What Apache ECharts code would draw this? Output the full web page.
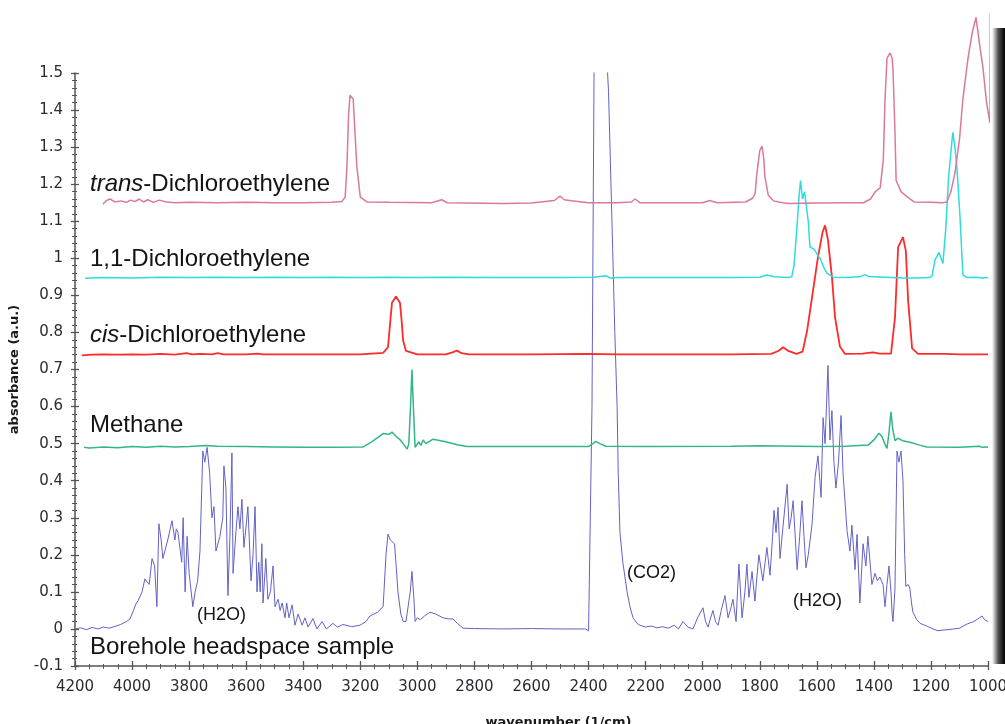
<!DOCTYPE html>
<html>
<head>
<meta charset="utf-8">
<script src="https://cdn.jsdelivr.net/npm/echarts@6/dist/echarts.min.js"></script>
<style>
  html, body { margin: 0; padding: 0; background: #fff; }
  #chart { width: 1005px; height: 724px; }
</style>
</head>
<body>
<div id="chart"></div>
<script>
// spectra: [wavenumber (1/cm), absorbance]
const transDCE = [
  [4102, 1.146], [4090, 1.156], [4077, 1.16], [4060, 1.152], [4040, 1.155], [4020, 1.151], [4005, 1.157],
  [3990, 1.153], [3975, 1.16], [3960, 1.152], [3945, 1.158], [3925, 1.151], [3905, 1.157], [3880, 1.152],
  [3850, 1.15], [3800, 1.151], [3700, 1.15], [3600, 1.151], [3500, 1.15], [3400, 1.15], [3300, 1.151],
  [3265, 1.153], [3253, 1.165], [3247, 1.246], [3241, 1.39], [3236, 1.44], [3230, 1.435], [3225, 1.43],
  [3218, 1.33], [3212, 1.246], [3200, 1.165], [3177, 1.152], [3100, 1.151], [2950, 1.15], [2915, 1.158],
  [2895, 1.15], [2700, 1.148], [2600, 1.149], [2520, 1.156], [2500, 1.168], [2485, 1.158], [2460, 1.155],
  [2400, 1.15], [2300, 1.15], [2250, 1.152], [2237, 1.16], [2220, 1.15], [2100, 1.15], [2000, 1.15],
  [1975, 1.156], [1950, 1.15], [1850, 1.152], [1825, 1.162], [1816, 1.175], [1810, 1.23], [1800, 1.29],
  [1792, 1.303], [1786, 1.27], [1782, 1.22], [1770, 1.17], [1752, 1.155], [1720, 1.15], [1700, 1.148],
  [1600, 1.149], [1500, 1.15], [1436, 1.15], [1412, 1.16], [1395, 1.18], [1378, 1.19], [1367, 1.265],
  [1361, 1.427], [1354, 1.54], [1343, 1.554], [1336, 1.54], [1333, 1.51], [1326, 1.34], [1322, 1.21],
  [1305, 1.18], [1282, 1.165], [1259, 1.152], [1200, 1.151], [1160, 1.15], [1144, 1.152], [1130, 1.18],
  [1116, 1.23], [1100, 1.32], [1088, 1.43], [1070, 1.54], [1055, 1.61], [1042, 1.65], [1030, 1.58],
  [1018, 1.516], [1005, 1.42], [993, 1.365], [992, 1.66]
];

const dce11 = [
  [4165, 0.946], [4100, 0.948], [4000, 0.947], [3900, 0.949], [3800, 0.948], [3700, 0.949], [3600, 0.948],
  [3500, 0.949], [3400, 0.948], [3300, 0.949], [3200, 0.948], [3100, 0.949], [3000, 0.948], [2900, 0.949],
  [2700, 0.948], [2500, 0.948], [2380, 0.949], [2340, 0.953], [2320, 0.946], [2300, 0.948], [2100, 0.948],
  [1900, 0.948], [1800, 0.949], [1775, 0.955], [1750, 0.95], [1700, 0.948], [1688, 0.95], [1680, 0.98],
  [1670, 1.08], [1662, 1.17], [1657, 1.21], [1650, 1.16], [1643, 1.18], [1638, 1.184], [1630, 1.1],
  [1624, 1.03], [1610, 1.025], [1603, 1.02], [1589, 1.0], [1575, 0.975], [1565, 0.96], [1543, 0.949],
  [1500, 0.948], [1450, 0.95], [1431, 0.956], [1420, 0.951], [1300, 0.947], [1250, 0.947], [1205, 0.948],
  [1196, 0.952], [1186, 0.995], [1172, 1.016], [1158, 0.986], [1148, 1.08], [1138, 1.22], [1126, 1.32],
  [1123, 1.34], [1116, 1.3], [1109, 1.246], [1098, 1.11], [1088, 0.955], [1074, 0.948], [1040, 0.949],
  [1020, 0.947], [1000, 0.948]
];

const cisDCE = [
  [4176, 0.738], [4140, 0.74], [4100, 0.741], [4050, 0.74], [4000, 0.741], [3950, 0.74], [3900, 0.742],
  [3850, 0.74], [3809, 0.744], [3790, 0.741], [3760, 0.742], [3720, 0.741], [3700, 0.744], [3680, 0.741],
  [3600, 0.741], [3560, 0.743], [3540, 0.741], [3400, 0.741], [3300, 0.741], [3200, 0.741], [3120, 0.745],
  [3103, 0.76], [3095, 0.83], [3089, 0.88], [3075, 0.897], [3061, 0.88], [3055, 0.83], [3050, 0.778],
  [3040, 0.75], [3033, 0.745], [3000, 0.741], [2900, 0.741], [2875, 0.747], [2861, 0.751], [2845, 0.744],
  [2820, 0.741], [2600, 0.741], [2400, 0.742], [2300, 0.741], [2100, 0.741], [1900, 0.741], [1760, 0.742],
  [1735, 0.75], [1718, 0.76], [1700, 0.75], [1671, 0.742], [1650, 0.748], [1634, 0.805], [1613, 0.914],
  [1596, 1.003], [1580, 1.07], [1571, 1.089], [1561, 1.05], [1547, 0.95], [1536, 0.84], [1519, 0.762],
  [1501, 0.742], [1440, 0.743], [1403, 0.746], [1380, 0.743], [1340, 0.743], [1326, 0.84], [1315, 1.03],
  [1308, 1.035], [1298, 1.057], [1288, 1.02], [1280, 0.886], [1266, 0.757], [1245, 0.742], [1150, 0.742],
  [1100, 0.741], [1000, 0.741]
];

const methane = [
  [4168, 0.49], [4150, 0.488], [4100, 0.491], [4050, 0.489], [4000, 0.492], [3950, 0.49], [3900, 0.493],
  [3850, 0.491], [3800, 0.492], [3740, 0.495], [3700, 0.493], [3600, 0.492], [3500, 0.491], [3400, 0.49],
  [3300, 0.49], [3190, 0.491], [3160, 0.505], [3120, 0.527], [3100, 0.525], [3089, 0.531], [3075, 0.52],
  [3060, 0.51], [3050, 0.5], [3036, 0.485], [3030, 0.5], [3024, 0.6], [3019, 0.7], [3014, 0.6],
  [3008, 0.49], [3001, 0.486], [2995, 0.505], [2988, 0.495], [2980, 0.51], [2970, 0.5], [2945, 0.512],
  [2900, 0.505], [2860, 0.497], [2826, 0.492], [2600, 0.492], [2400, 0.492], [2385, 0.5], [2375, 0.506],
  [2360, 0.5], [2340, 0.493], [2200, 0.492], [1900, 0.493], [1800, 0.494], [1600, 0.492], [1500, 0.493],
  [1420, 0.496], [1400, 0.51], [1382, 0.528], [1372, 0.52], [1362, 0.5], [1354, 0.487], [1347, 0.53],
  [1340, 0.586], [1334, 0.54], [1326, 0.508], [1315, 0.515], [1300, 0.508], [1270, 0.503], [1240, 0.496],
  [1214, 0.491], [1100, 0.49], [1030, 0.493], [1020, 0.49], [1000, 0.491]
];

const borehole = [
  [4200, 0.0], [4180, 0.003], [4160, -0.002], [4140, 0.004], [4120, 0.0], [4100, 0.005], [4080, 0.002],
  [4067, 0.005], [4040, 0.012], [4020, 0.02], [4007, 0.027], [3995, 0.05], [3985, 0.07], [3979, 0.076],
  [3965, 0.1], [3955, 0.135], [3948, 0.14], [3940, 0.12], [3930, 0.19], [3921, 0.17], [3913, 0.06],
  [3906, 0.284], [3898, 0.24], [3892, 0.19], [3875, 0.24], [3860, 0.292], [3850, 0.24], [3845, 0.27],
  [3839, 0.26], [3826, 0.18], [3821, 0.3], [3814, 0.1], [3807, 0.25], [3800, 0.15], [3787, 0.06],
  [3779, 0.1], [3770, 0.13], [3762, 0.21], [3752, 0.48], [3745, 0.45], [3737, 0.49], [3728, 0.42],
  [3720, 0.3], [3713, 0.33], [3706, 0.21], [3692, 0.25], [3682, 0.3], [3678, 0.44], [3671, 0.38],
  [3664, 0.09], [3657, 0.25], [3650, 0.475], [3646, 0.15], [3638, 0.24], [3629, 0.33], [3622, 0.27],
  [3615, 0.35], [3608, 0.22], [3600, 0.28], [3594, 0.33], [3583, 0.13], [3576, 0.2], [3569, 0.33],
  [3562, 0.1], [3556, 0.18], [3551, 0.1], [3545, 0.23], [3541, 0.07], [3531, 0.19], [3524, 0.08],
  [3515, 0.1], [3506, 0.17], [3499, 0.06], [3488, 0.08], [3481, 0.05], [3474, 0.07], [3464, 0.03],
  [3458, 0.07], [3450, 0.03], [3439, 0.065], [3429, 0.01], [3418, 0.04], [3404, 0.01], [3394, 0.03],
  [3383, 0.005], [3366, 0.028], [3352, 0.0], [3334, 0.02], [3319, 0.0], [3296, 0.015], [3280, 0.005],
  [3261, 0.012], [3230, 0.006], [3201, 0.01], [3180, 0.02], [3166, 0.035], [3140, 0.045], [3120, 0.06],
  [3110, 0.2], [3103, 0.256], [3095, 0.24], [3089, 0.245], [3080, 0.23], [3068, 0.1], [3058, 0.04],
  [3050, 0.02], [3040, 0.02], [3033, 0.025], [3025, 0.1], [3019, 0.155], [3012, 0.08], [3008, 0.02],
  [3000, 0.03], [2990, 0.025], [2975, 0.035], [2956, 0.045], [2935, 0.04], [2910, 0.03], [2890, 0.027],
  [2875, 0.027], [2860, 0.015], [2840, 0.002], [2800, 0.001], [2700, 0.0], [2600, 0.001], [2500, 0.0],
  [2410, 0.0], [2400, -0.005], [2394, 0.0], [2388, 0.6], [2380, 1.6], [2340, 1.6], [2330, 1.45],
  [2318, 1.1], [2308, 0.8], [2300, 0.6], [2296, 0.42], [2290, 0.26], [2280, 0.18], [2265, 0.1],
  [2255, 0.06], [2244, 0.03], [2230, 0.015], [2220, 0.01], [2200, 0.005], [2180, 0.008], [2160, 0.003],
  [2140, 0.006], [2120, 0.002], [2100, 0.01], [2085, 0.0], [2069, 0.02], [2052, 0.005], [2034, 0.0],
  [2018, 0.03], [1999, 0.057], [1990, 0.02], [1981, 0.005], [1972, 0.03], [1964, 0.05], [1955, 0.02],
  [1946, 0.01], [1935, 0.05], [1922, 0.09], [1911, 0.03], [1900, 0.06], [1894, 0.08], [1883, 0.02],
  [1878, 0.1], [1873, 0.175], [1862, 0.03], [1852, 0.1], [1845, 0.175], [1838, 0.085], [1827, 0.155],
  [1817, 0.075], [1810, 0.14], [1803, 0.2], [1789, 0.13], [1775, 0.22], [1764, 0.145], [1755, 0.25],
  [1750, 0.32], [1743, 0.26], [1736, 0.328], [1729, 0.19], [1718, 0.28], [1704, 0.39], [1697, 0.27],
  [1690, 0.3], [1683, 0.346], [1669, 0.16], [1660, 0.25], [1652, 0.346], [1645, 0.25], [1638, 0.165],
  [1630, 0.2], [1617, 0.28], [1606, 0.41], [1596, 0.467], [1585, 0.355], [1578, 0.57], [1571, 0.5],
  [1561, 0.711], [1554, 0.51], [1547, 0.589], [1540, 0.45], [1533, 0.38], [1524, 0.45], [1515, 0.576],
  [1508, 0.42], [1494, 0.265], [1484, 0.21], [1477, 0.28], [1466, 0.16], [1459, 0.255], [1449, 0.07],
  [1438, 0.23], [1428, 0.17], [1421, 0.25], [1407, 0.12], [1396, 0.15], [1388, 0.13], [1379, 0.14],
  [1368, 0.12], [1361, 0.06], [1354, 0.12], [1347, 0.17], [1340, 0.1], [1336, 0.04], [1333, 0.02],
  [1326, 0.11], [1319, 0.48], [1312, 0.45], [1305, 0.48], [1298, 0.4], [1292, 0.2], [1288, 0.115],
  [1280, 0.12], [1274, 0.11], [1268, 0.07], [1263, 0.045], [1250, 0.025], [1238, 0.015], [1215, 0.008],
  [1193, 0.0], [1175, -0.005], [1158, -0.003], [1140, -0.002], [1120, 0.0], [1100, 0.002], [1074, 0.013],
  [1050, 0.02], [1030, 0.03], [1021, 0.035], [1012, 0.025], [1000, 0.02]
];

const seriesNames = ['trans-Dichloroethylene', '1,1-Dichloroethylene', 'cis-Dichloroethylene', 'Methane', 'Borehole headspace sample'];
const seriesColors = ['#dc78a0', '#2edcdc', '#ff2a2a', '#33b585', '#6262c6'];

const labelFont = 'Liberation Sans, Arial, sans-serif';
const tickFont = 'DejaVu Sans, sans-serif';

function note (text, x, y, size) {
  return {
    type: 'text',
    x: x,
    y: y,
    silent: true,
    style: {
      text: text,
      fill: '#141414',
      fontFamily: labelFont,
      fontSize: size,
      verticalAlign: 'middle',
      rich: {
        i: { fontStyle: 'italic', fontFamily: labelFont, fontSize: size, fill: '#141414' }
      }
    }
  }
}

function lineSeries (i, data, width, clip) {
  return {
    name: seriesNames[i],
    type: 'line',
    data: data,
    showSymbol: false,
    symbol: 'none',
    clip: clip,
    lineStyle: { color: seriesColors[i], width: width },
    itemStyle: { color: seriesColors[i] }
  }
}

const xBase = {
  type: 'value',
  inverse: true,
  min: 1000,
  max: 4200,
  interval: 200,
  position: 'bottom',
  splitLine: { show: false }
}

const yBase = {
  type: 'value',
  min: -0.1,
  max: 1.5,
  interval: 0.1,
  position: 'left',
  splitLine: { show: false }
}

const chart = echarts.init(document.getElementById('chart'))
chart.setOption({
  animation: false,
  backgroundColor: '#fff',
  grid: { left: 75, right: 17, top: 73, bottom: 58, containLabel: false, outerBoundsMode: 'none' },
  xAxis: [
    Object.assign({}, xBase, {
      name: 'wavenumber (1/cm)',
      nameLocation: 'middle',
      nameGap: 50,
      nameTextStyle: { fontFamily: tickFont, fontWeight: 'bold', fontSize: 13, color: '#1a1a1a', padding: [0, 0, 0, 54] },
      axisLine: { onZero: false, lineStyle: { color: '#555', width: 1.5 } },
      axisTick: { inside: false, length: 4, lineStyle: { color: '#555', width: 1.3 } },
      minorTick: { show: true, splitNumber: 4, length: 3, lineStyle: { color: '#555', width: 1 } },
      axisLabel: { margin: 14, fontFamily: tickFont, fontSize: 15, color: '#2a2a33', formatter: v => String(v) }
    }),
    Object.assign({}, xBase, {
      axisLine: { show: false, onZero: false },
      axisTick: { inside: true, length: 5, lineStyle: { color: '#555', width: 1.3 } },
      minorTick: { show: true, splitNumber: 4, length: 2, lineStyle: { color: '#555', width: 1 } },
      axisLabel: { show: false }
    })
  ],
  yAxis: [
    Object.assign({}, yBase, {
      name: 'absorbance (a.u.)',
      nameLocation: 'middle',
      nameGap: 54,
      nameTextStyle: { fontFamily: tickFont, fontWeight: 'bold', fontSize: 13, color: '#1a1a1a' },
      axisLine: { onZero: false, lineStyle: { color: '#555', width: 1.5 } },
      axisTick: { inside: false, length: 4, lineStyle: { color: '#555', width: 1.3 } },
      minorTick: { show: true, splitNumber: 5, length: 3, lineStyle: { color: '#555', width: 1 } },
      axisLabel: { margin: 12, fontFamily: tickFont, fontSize: 15, color: '#2a2a33' }
    }),
    Object.assign({}, yBase, {
      axisLine: { show: false, onZero: false },
      axisTick: { inside: true, length: 4, lineStyle: { color: '#555', width: 1.3 } },
      minorTick: { show: true, splitNumber: 5, length: 2, lineStyle: { color: '#555', width: 1 } },
      axisLabel: { show: false }
    })
  ],
  series: [
    lineSeries(4, borehole, 1, true),
    lineSeries(3, methane, 1.5, true),
    lineSeries(2, cisDCE, 1.8, true),
    lineSeries(1, dce11, 1.5, true),
    lineSeries(0, transDCE, 1.5, false)
  ],
  graphic: [
    note('{i|trans}-Dichloroethylene', 90, 184, 24),
    note('1,1-Dichloroethylene', 90, 259, 24),
    note('{i|cis}-Dichloroethylene', 90, 335, 24),
    note('Methane', 90, 425, 24),
    note('Borehole headspace sample', 90, 647, 24),
    note('(H2O)', 197, 615, 18),
    note('(CO2)', 627, 573, 18),
    note('(H2O)', 793, 601, 18),
    {
      type: 'rect',
      silent: true,
      shape: { x: 992, y: 28, width: 13, height: 636 },
      style: {
        fill: new echarts.graphic.LinearGradient(0, 0, 1, 0, [
          { offset: 0, color: 'rgba(0,0,0,0)' },
          { offset: 0.5, color: 'rgba(0,0,0,0.7)' },
          { offset: 1, color: '#000' }
        ])
      }
    }
  ]
})
</script>
</body>
</html>
